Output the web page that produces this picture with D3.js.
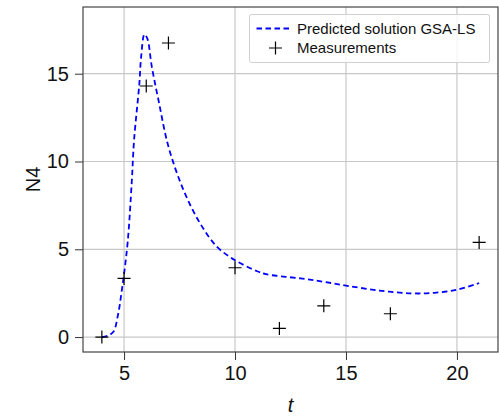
<!DOCTYPE html>
<html>
<head>
<meta charset="utf-8">
<script src="https://cdn.jsdelivr.net/npm/d3@7"></script>
<style>
html,body{margin:0;padding:0;background:#fff;}
svg{display:block;}
text{font-family:"Liberation Sans","Arial",sans-serif;fill:#111;}
</style>
</head>
<body>
<svg id="chart" width="499" height="416"></svg>
<script>
// Predicted solution (GSA-LS)
const predT = [4.0, 4.3, 4.52, 4.74, 4.9, 5.0, 5.17, 5.35, 5.45, 5.69, 5.77, 5.92, 6.05, 6.25, 6.55, 7.0, 7.68, 8.43, 9.19, 10.0, 11.0, 11.4, 12.95, 14.0, 15.06, 16.5, 17.92, 18.98, 20.0, 20.86, 21.0];
const predY = [0.0, 0.1, 0.3, 1.35, 2.68, 3.6, 5.5, 8.9, 11.2, 14.45, 15.96, 17.24, 17.0, 15.4, 13.5, 10.85, 8.37, 6.47, 5.14, 4.38, 3.75, 3.58, 3.34, 3.15, 2.92, 2.65, 2.49, 2.52, 2.7, 3.02, 3.08];
// Measurements
const measT = [4, 5, 6, 7, 10, 12, 14, 17, 21];
const measY = [0.0, 3.34, 14.3, 16.75, 3.95, 0.49, 1.78, 1.33, 5.39];
// Ticks
const xTicks = [5, 10, 15, 20];
const yTicks = [0, 5, 10, 15];
const legendLabels = ["Predicted solution GSA-LS", "Measurements"];

const svg = d3.select("#chart");
const L = 83, R = 498, T = 7, B = 352;
const x = d3.scaleLinear().domain([3.15, 21.85]).range([L, R]);
const y = d3.scaleLinear().domain([-0.85, 18.8]).range([B, T]);

// grid
svg.append("g").selectAll("line").data(xTicks).join("line")
  .attr("x1", d => x(d)).attr("x2", d => x(d)).attr("y1", T).attr("y2", B)
  .attr("stroke", "#c8c8c8").attr("stroke-width", 1.2);
svg.append("g").selectAll("line").data(yTicks).join("line")
  .attr("y1", d => y(d)).attr("y2", d => y(d)).attr("x1", L).attr("x2", R)
  .attr("stroke", "#c8c8c8").attr("stroke-width", 1.2);

// axes
const xAxis = d3.axisBottom(x).tickValues(xTicks).tickSize(8).tickPadding(6).tickFormat(d3.format("d"));
const yAxis = d3.axisLeft(y).tickValues(yTicks).tickSize(8).tickPadding(6).tickFormat(d3.format("d"));
const gx = svg.append("g").attr("transform", `translate(0,${B})`).call(xAxis);
const gy = svg.append("g").attr("transform", `translate(${L},0)`).call(yAxis);
[gx, gy].forEach(g => {
  g.select(".domain").remove();
  g.selectAll(".tick line").attr("stroke", "#333").attr("stroke-width", 1);
  g.selectAll(".tick text").attr("font-size", 20).attr("fill", "#111")
    .attr("font-family", '"Liberation Sans", Arial, sans-serif');
});

// frame
svg.append("rect").attr("x", L).attr("y", T).attr("width", R - L).attr("height", B - T)
  .attr("fill", "none").attr("stroke", "#444").attr("stroke-width", 1.2);

// line
const lineData = predT.map((t, i) => [t, predY[i]]);
svg.append("path").datum(lineData)
  .attr("d", d3.line().x(d => x(d[0])).y(d => y(d[1])).curve(d3.curveCatmullRom.alpha(0.5)))
  .attr("fill", "none").attr("stroke", "#0000ff").attr("stroke-width", 1.8)
  .attr("stroke-dasharray", "5.5,3.5");

// markers
function drawPlus(g, cx, cy, s) {
  g.append("path").attr("d", `M${cx - s},${cy}H${cx + s}M${cx},${cy - s}V${cy + s}`)
    .attr("stroke", "#000").attr("stroke-width", 1.2).attr("fill", "none");
}
const mg = svg.append("g");
measT.forEach((t, i) => drawPlus(mg, x(t), y(measY[i]), 6.5));

// legend
const lg = svg.append("g");
lg.append("rect").attr("x", 249.5).attr("y", 14.5).attr("width", 240).attr("height", 48)
  .attr("rx", 2).attr("fill", "#fff").attr("fill-opacity", 0.8).attr("stroke", "#d0d0d0").attr("stroke-width", 1);
lg.append("line").attr("x1", 256.5).attr("x2", 290).attr("y1", 28.5).attr("y2", 28.5)
  .attr("stroke", "#0000ff").attr("stroke-width", 1.8).attr("stroke-dasharray", "5.5,3.5");
drawPlus(lg, 275.5, 48, 6.5);
lg.selectAll("text").data(legendLabels).join("text")
  .attr("x", 297).attr("y", (d, i) => 33.5 + i * 19.5)
  .attr("font-size", 15).text(d => d);

// axis labels
svg.append("text").attr("x", x(12.5)).attr("y", 412).attr("text-anchor", "middle")
  .attr("font-size", 20).attr("font-style", "italic").text("t");
svg.append("text").attr("transform", `translate(40,${(T + B) / 2}) rotate(-90)`)
  .attr("text-anchor", "middle").attr("font-size", 20).text("N4");
</script>
</body>
</html>
